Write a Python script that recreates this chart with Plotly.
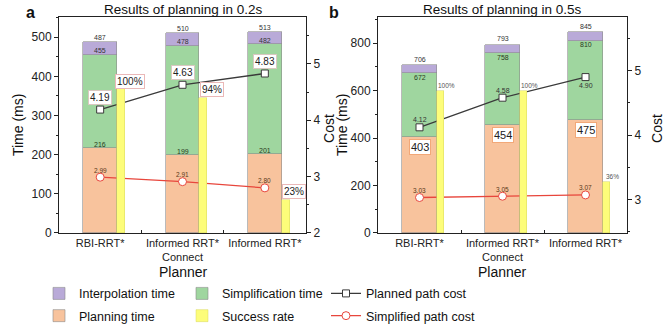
import plotly.graph_objects as go

planners = ["RBI-RRT*", "Informed RRT*<br>Connect", "Informed RRT*"]
xs = [0, 1, 2]

# Panel a: planning in 0.2 s (cumulative stack tops as labelled)
a_planning = [216, 199, 201]
a_simplified_top = [455, 478, 482]
a_total = [487, 510, 513]
a_planned_cost = [4.19, 4.63, 4.83]
a_simplified_cost = [2.99, 2.91, 2.80]
a_success = [100, 94, 23]

# Panel b: planning in 0.5 s
b_planning = [403, 454, 475]
b_simplified_top = [672, 758, 810]
b_total = [706, 793, 845]
b_planned_cost = [4.12, 4.58, 4.90]
b_simplified_cost = [3.03, 3.05, 3.07]
b_success = [100, 100, 36]

C_PURPLE = "#b9aad8"
C_GREEN = "#9fd69f"
C_ORANGE = "#f8c39d"
C_YELLOW = "#fdfd7a"
C_DARK = "#3a3a3a"
C_RED = "#e8463c"
EDGE = dict(color="#8c8c8c", width=0.6)

FONT = "Liberation Sans, Arial"

fig = go.Figure()


def add_panel(xa, ya, yc, ys, plan, simp_top, total, pcost, scost, succ, show):
    simp = [t - p for t, p in zip(simp_top, plan)]
    interp = [t - s for t, s in zip(total, simp_top)]
    fig.add_trace(go.Bar(x=xs, y=plan, width=0.41, marker=dict(color=C_ORANGE, line=EDGE),
                         name="Planning time", xaxis=xa, yaxis=ya, showlegend=show,
                         legend="legend", legendgroup="plan", legendrank=2))
    fig.add_trace(go.Bar(x=xs, y=simp, width=0.41, marker=dict(color=C_GREEN, line=EDGE),
                         name="Simplification time", xaxis=xa, yaxis=ya, showlegend=show,
                         legend="legend2", legendgroup="simp", legendrank=1))
    fig.add_trace(go.Bar(x=xs, y=interp, width=0.41, marker=dict(color=C_PURPLE, line=EDGE),
                         name="Interpolation time", xaxis=xa, yaxis=ya, showlegend=show,
                         legend="legend", legendgroup="interp", legendrank=1))
    fig.add_trace(go.Bar(x=xs, y=succ, width=0.095, offset=0.205,
                         marker=dict(color=C_YELLOW, line=dict(color="#d8d860", width=0.5)),
                         name="Success rate", xaxis=xa, yaxis=ys, showlegend=show,
                         legend="legend2", legendgroup="succ", legendrank=2))
    fig.add_trace(go.Scatter(x=xs, y=pcost, mode="lines+markers",
                             line=dict(color=C_DARK, width=1.3),
                             marker=dict(symbol="square", size=7, color="white",
                                         line=dict(color=C_DARK, width=1)),
                             name="Planned path cost", xaxis=xa, yaxis=yc, showlegend=show,
                             legend="legend3", legendgroup="pc", legendrank=1))
    fig.add_trace(go.Scatter(x=xs, y=scost, mode="lines+markers",
                             line=dict(color=C_RED, width=1.3),
                             marker=dict(symbol="circle", size=8, color="white",
                                         line=dict(color=C_RED, width=1)),
                             name="Simplified path cost", xaxis=xa, yaxis=yc, showlegend=show,
                             legend="legend3", legendgroup="sc", legendrank=2))


add_panel("x", "y", "y2", "y3", a_planning, a_simplified_top, a_total,
          a_planned_cost, a_simplified_cost, a_success, True)
add_panel("x2", "y4", "y5", "y6", b_planning, b_simplified_top, b_total,
          b_planned_cost, b_simplified_cost, b_success, False)


def ann(x, y, text, xref, yref, size=7, color="#333", yshift=0, box=None):
    kw = dict(x=x, y=y, text=text, xref=xref, yref=yref, showarrow=False,
              yshift=yshift, font=dict(size=size, color=color, family=FONT))
    if box:
        kw.update(bordercolor=box, borderwidth=1, borderpad=1, bgcolor="white")
    fig.add_annotation(**kw)


# Panel a labels
for i in xs:
    ann(i, a_total[i], str(a_total[i]), "x", "y", size=7, yshift=5)
    ann(i, a_simplified_top[i], str(a_simplified_top[i]), "x", "y", size=7, yshift=4)
    ann(i, a_planning[i], str(a_planning[i]), "x", "y", size=7, yshift=4, color="#2a3a20")
    ann(i, a_planned_cost[i], f"{a_planned_cost[i]:.2f}", "x", "y2", size=10,
        color="#222", yshift=12, box="#d8c8c0")
    ann(i, a_simplified_cost[i], f"{a_simplified_cost[i]:.2f}", "x", "y2", size=6.5,
        color="#5a3a1a", yshift=7)
    ann(i + 0.36, a_success[i], f"{a_success[i]}%", "x", "y3", size=10,
        color="#222", yshift=8, box="#eab8b8")

# Panel b labels
b_pcost_shift = [8, 7, -8]
for i in xs:
    ann(i, b_total[i], str(b_total[i]), "x2", "y4", size=7, yshift=6)
    ann(i, b_simplified_top[i], str(b_simplified_top[i]), "x2", "y4", size=7, yshift=-4,
        color="#2a3a20")
    ann(i, b_planning[i], str(b_planning[i]), "x2", "y4", size=11, color="#222",
        yshift=-10, box="#f2a878")
    ann(i, b_planned_cost[i], f"{b_planned_cost[i]:.2f}", "x2", "y5", size=7,
        color="#333", yshift=b_pcost_shift[i])
    ann(i, b_simplified_cost[i], f"{b_simplified_cost[i]:.2f}", "x2", "y5", size=6.5,
        color="#5a3a1a", yshift=7)
    ann(i + 0.33, b_success[i], f"{b_success[i]}%", "x2", "y6", size=6.5,
        color="#555", yshift=5)


def paper_text(px, py, text, size, angle=0, bold=False):
    fig.add_annotation(x=px / 667, y=1 - py / 331, xref="paper", yref="paper",
                       text=f"<b>{text}</b>" if bold else text, showarrow=False,
                       textangle=angle, xanchor="center", yanchor="middle",
                       font=dict(size=size, family=FONT, color="#111"))


# titles, panel letters and axis titles
paper_text(183, 10, "Results of planning in 0.2s", 13.5)
paper_text(502, 10, "Results of planning in 0.5s", 13.5)
paper_text(30, 13, "a", 16, bold=True)
paper_text(334, 13, "b", 16, bold=True)
paper_text(18, 131, "Time (ms)", 14, angle=-90)
paper_text(342, 131, "Time (ms)", 14, angle=-90)
paper_text(329, 135, "Cost", 14, angle=-90)
paper_text(657, 135, "Cost", 14, angle=-90)
paper_text(183, 285, "Planner", 14)
paper_text(502, 285, "Planner", 14)

YDOM = [1 - 244 / 331, 1 - 18 / 331]
line_kw = dict(showline=True, linecolor="#222", linewidth=1, showgrid=False, zeroline=False)
tickfont = dict(size=12, family=FONT, color="#222")
xtickfont = dict(size=11, family=FONT, color="#222")


def xaxis_cfg(dom, anchor):
    return dict(domain=dom, anchor=anchor, range=[-0.5, 2.5], tickmode="array",
                tickvals=xs, ticktext=planners, ticks="", mirror=True, tickangle=0,
                tickfont=xtickfont,
                minor=dict(tickmode="array", tickvals=[0.5, 1.5], ticks="inside",
                           ticklen=3, tickcolor="#222"),
                **line_kw)


def yleft_cfg(anchor, rng, dtick):
    return dict(domain=YDOM, anchor=anchor, range=rng, dtick=dtick, ticks="outside",
                ticklen=4, tickcolor="#222", tickfont=tickfont,
                minor=dict(dtick=dtick / 2, ticks="outside", ticklen=2, tickcolor="#222"),
                **line_kw)


def yright_cfg(over, anchor, rng, tv):
    return dict(overlaying=over, anchor=anchor, side="right", range=rng,
                tickmode="array", tickvals=tv, ticks="outside", ticklen=4,
                tickcolor="#222", tickfont=tickfont,
                minor=dict(dtick=0.5, ticks="outside", ticklen=2, tickcolor="#222"),
                **line_kw)


leg_common = dict(yanchor="top", xanchor="left", orientation="v", traceorder="grouped",
                  tracegroupgap=3, bgcolor="rgba(0,0,0,0)",
                  font=dict(size=12.5, family=FONT, color="#111"))

fig.update_layout(
    width=667, height=331,
    margin=dict(l=0, r=0, t=0, b=0),
    paper_bgcolor="white", plot_bgcolor="white",
    barmode="stack", bargap=0,
    font=dict(family=FONT, color="#222"),
    xaxis=xaxis_cfg([59 / 667, 306 / 667], "y"),
    xaxis2=xaxis_cfg([378 / 667, 627 / 667], "y4"),
    yaxis=yleft_cfg("x", [0, 551], 100),
    yaxis2=yright_cfg("y", "x", [2, 5.83], [2, 3, 4, 5]),
    yaxis3=dict(overlaying="y", anchor="x", range=[0, 150], visible=False),
    yaxis4=yleft_cfg("x2", [0, 910], 200),
    yaxis5=yright_cfg("y4", "x2", [2.48, 5.83], [3, 4, 5]),
    yaxis6=dict(overlaying="y4", anchor="x2", range=[0, 151.7], visible=False),
    legend=dict(x=39 / 667, y=1 - 292 / 331, **leg_common),
    legend2=dict(x=182 / 667, y=1 - 292 / 331, **leg_common),
    legend3=dict(x=326 / 667, y=1 - 292 / 331, **leg_common),
)

fig.write_html("out.html")
